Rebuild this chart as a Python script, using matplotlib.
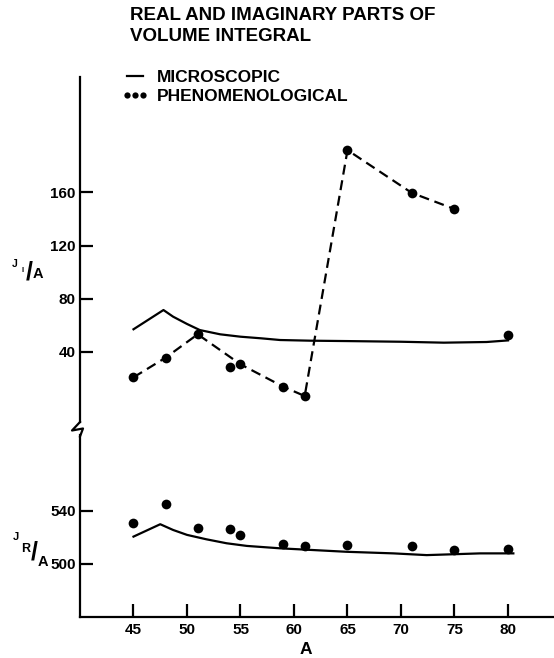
import matplotlib
matplotlib.use('Agg')
import matplotlib.pyplot as plt
from matplotlib.lines import Line2D

plt.rcParams['font.family'] = ['Liberation Sans', 'DejaVu Sans']
plt.rcParams['font.weight'] = 'bold'

# ---------------- data ----------------
A_phen = [45, 48, 51, 54, 55, 59, 61, 65, 71, 75, 80]
JI_phen = [20.7, 35.5, 53.1, 28.7, 30.5, 13.6, 6.6, 191.9, 159.7, 147.5, 52.6]
JR_phen = [530.5, 544.8, 527.2, 526.0, 521.4, 514.9, 513.4, 514.1, 513.4, 510.1, 511.1]
dash_skip = [54, 80]   # points the dashed guide does not pass through

A_micro_I = [45, 47.8, 48.7, 50.0, 51.2, 53.1, 55.0, 56.9, 58.7, 61.5, 65, 70, 74, 78, 80]
JI_micro = [56.9, 71.4, 66.4, 60.9, 56.3, 53.1, 51.3, 50.1, 48.8, 48.3, 48.0, 47.5, 46.8, 47.3, 48.5]

A_micro_R = [45, 47.5, 48.7, 50.0, 51.8, 53.7, 55.6, 58.7, 64.9, 69.3, 72.4, 77.4, 80.5]
JR_micro = [520.4, 529.7, 525.4, 521.7, 518.4, 515.4, 513.4, 511.6, 509.0, 507.8, 506.5, 507.8, 507.8]

x_ticks = [45, 50, 55, 60, 65, 70, 75, 80]
yI_ticks = [40, 80, 120, 160]
yR_ticks = [500, 540]

title = "REAL AND IMAGINARY PARTS OF\nVOLUME INTEGRAL"
leg_labels = ["MICROSCOPIC", "PHENOMENOLOGICAL"]

# ---------------- layout ----------------
W, H = 554, 658
fig = plt.figure(figsize=(W / 100, H / 100), dpi=100)

def fx(x):
    return x / W

def fy(y):
    return 1 - y / H

x0, x1 = 80, 554
y_top, y_brk, y_bot = 77, 428, 617
ax_t = fig.add_axes([fx(x0), fy(y_brk), fx(x1) - fx(x0), fy(y_top) - fy(y_brk)])
ax_b = fig.add_axes([fx(x0), fy(y_bot), fx(x1) - fx(x0), fy(y_brk) - fy(y_bot)], sharex=ax_t)

LW = 1.6
MS = 7.0
TICKFS = 11.0

# upper: imaginary part
dash_x = [a for a in A_phen if a not in dash_skip]
dash_y = [v for a, v in zip(A_phen, JI_phen) if a not in dash_skip]
ax_t.plot(A_micro_I, JI_micro, color='black', lw=LW)
ax_t.plot(dash_x, dash_y, color='black', lw=LW, dashes=(4.5, 2.6))
ax_t.plot(A_phen, JI_phen, 'o', color='black', ms=MS, markeredgewidth=0)

# lower: real part
ax_b.plot(A_micro_R, JR_micro, color='black', lw=LW)
ax_b.plot(A_phen, JR_phen, 'o', color='black', ms=MS, markeredgewidth=0)

ax_t.set_ylim(-17.5, 247)
ax_b.set_ylim(460, 602)
ax_t.set_xlim(40, 84.3)

for ax in (ax_t, ax_b):
    for s in ('top', 'right'):
        ax.spines[s].set_visible(False)
    ax.spines['left'].set_linewidth(LW)
    ax.spines['bottom'].set_linewidth(LW)
    ax.patch.set_alpha(0)

ax_t.spines['bottom'].set_visible(False)
ax_t.spines['left'].set_bounds(-13, 247)
ax_b.spines['left'].set_bounds(460, 596.5)

ax_t.set_yticks(yI_ticks)
ax_b.set_yticks(yR_ticks)
ax_b.set_xticks(x_ticks)
ax_t.tick_params(axis='x', which='both', bottom=False, labelbottom=False)
for ax in (ax_t, ax_b):
    ax.tick_params(axis='y', direction='in', length=9, width=LW, labelsize=TICKFS, pad=3)
ax_b.tick_params(axis='x', direction='in', length=9.5, width=LW, labelsize=TICKFS, pad=4)

ax_b.set_xlabel("A", fontsize=12.5, fontweight='bold')
ax_b.xaxis.set_label_coords((306 - x0) / (x1 - x0), (y_bot - 649) / (y_bot - y_brk))
ax_b.xaxis.label.set_va('center')

# axis break mark
brk = [(80, 422), (72, 430.5), (83, 428.5), (80, 436.5)]
fig.add_artist(Line2D([fx(p[0]) for p in brk], [fy(p[1]) for p in brk],
                      transform=fig.transFigure, color='black', lw=LW))

# y-axis labels (J_I / A and J_R / A)
def ylab(pieces):
    for txt, x, y, fs in pieces:
        fig.text(fx(x), fy(y), txt, fontsize=fs, ha='center', va='center')

ylab([("J", 14.5, 264, 7.5), ("I", 22.5, 270.5, 5.5),
      ("/", 29, 272, 18), ("A", 38, 274.5, 10.5)])
ylab([("J", 15.5, 537.5, 8), ("R", 25.5, 549.5, 9),
      ("/", 34, 553, 18), ("A", 43, 562, 10.5)])

# title
fig.text(fx(130), fy(7), title, fontsize=13.5, ha='left', va='top', linespacing=1.3)

# legend
h_line = Line2D([], [], color='black', lw=LW)
h_dots = Line2D([], [], color='black', marker='o', ls='none', ms=4.5, markeredgewidth=0)
fig.legend([h_line, h_dots], leg_labels, loc='upper left',
           bbox_to_anchor=(fx(122), fy(70)), frameon=False, fontsize=12.5,
           numpoints=3, handlelength=1.5, handletextpad=0.5, labelspacing=0.2,
           borderpad=0, borderaxespad=0)

fig.savefig('out.png', dpi=100)
